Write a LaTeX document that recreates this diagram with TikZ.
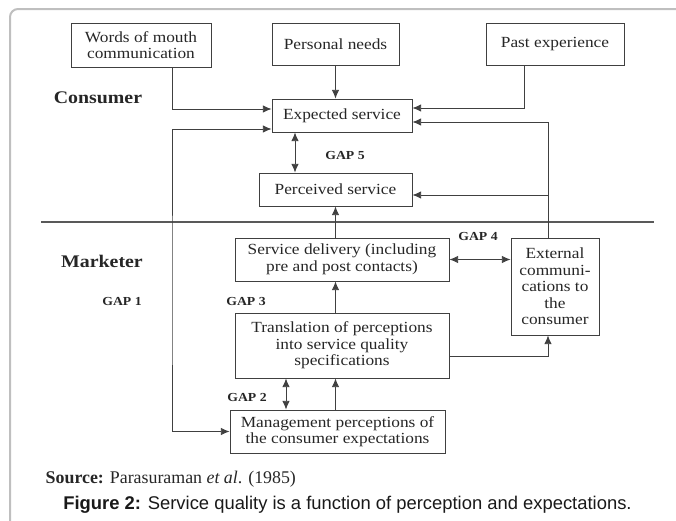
\documentclass[tikz,border=0pt]{standalone}
\usepackage{fontspec}
\setmainfont{Liberation Serif}
\newfontfamily\figfont[FakeStretch=1.12]{Liberation Serif}
\newfontfamily\capfont{Liberation Sans}
\usetikzlibrary{arrows.meta,calc}

\begin{document}
\begin{tikzpicture}[x=0.75pt,y=-0.75pt,
  box/.style={draw=black!75, line width=0.6pt, inner sep=0pt, align=center, text=black!85,
    font=\figfont\fontsize{11.6}{12.4}\selectfont},
  gap/.style={text=black!85, font=\figfont\bfseries\fontsize{9.2}{9.2}\selectfont},
  side/.style={text=black!85, font=\figfont\bfseries\fontsize{13.3}{13.3}\selectfont},
  link/.style={draw=black!75, line width=0.6pt, -{Latex[length=6.5pt,width=5.5pt]}},
  both/.style={link, {Latex[length=6.5pt,width=5.5pt]}-{Latex[length=6.5pt,width=5.5pt]}}]
  \useasboundingbox (0,0) rectangle (676,521);
  \draw[black!25, line width=1.5pt, rounded corners=6pt] (10,521) -- (10,9) -- (676,9);

  \node[box, minimum width=105pt, minimum height=33pt] (words) at (141,45) {Words of mouth\\communication};
  \node[box, minimum width=95.25pt, minimum height=31.5pt] (needs) at (335.5,44) {Personal needs};
  \node[box, minimum width=103.5pt, minimum height=31.5pt] (past) at (555,44) {Past experience};
  \node[box, minimum width=105pt, minimum height=24.75pt] (expected) at (342,115.5) {Expected service};
  \node[box, minimum width=114.75pt, minimum height=24.75pt] (perceived) at (335.5,189.5) {Perceived service};
  \node[box, minimum width=160.5pt, minimum height=32.25pt] (delivery) at (342,259.5) {Service delivery (including\\pre and post contacts)};
  \node[box, minimum width=66pt, minimum height=72.75pt] (external) at (555,286.5) {External\\communi-\\cations to\\the\\consumer};
  \node[box, minimum width=160.5pt, minimum height=48.75pt] (translation) at (342,345.5) {Translation of perceptions\\into service quality\\specifications};
  \node[box, minimum width=161.25pt, minimum height=32.25pt] (management) at (337.5,431.5) {Management perceptions of\\the consumer expectations};

  \node[side] (consumer) at (98,98) {Consumer};
  \node[side] (marketer) at (102,261) {Marketer};
  \node[gap] (gap1) at (122,301) {GAP 1};
  \node[gap] (gap2) at (247,397) {GAP 2};
  \node[gap] (gap3) at (246,301) {GAP 3};
  \node[gap] (gap4) at (478,236) {GAP 4};
  \node[gap] (gap5) at (345,155) {GAP 5};

  \draw[black!65, line width=1pt] (41,222) -- (654,222);

  \coordinate (leftx) at (172,300);
  \coordinate (extx) at ($(external.north)+(-7,0)$);
  \coordinate (gtwo) at (286,400);
  \coordinate (gfive) at (295,150);
  \coordinate (pin) at ($(perceived.east)+(0,5.5)$);

  \draw[link] ($(words.south)+(31,0)$) |- ($(expected.west)+(0,-6.5)$);
  \draw[link] (needs.south) -- (expected.north -| needs.south);
  \draw[link] ($(past.south)+(-31,0)$) |- ($(expected.east)+(0,-7.5)$);
  \draw[link] (extx) |- ($(expected.east)+(0,6.5)$);
  \draw[link] (pin -| extx) -- (pin);
  \draw[both] ($(expected.west)+(0,13.5)$) -| (leftx) |- (management.west);
  \draw[both] (expected.south -| gfive) -- (perceived.north -| gfive);
  \draw[link] (delivery.north -| perceived.south) -- (perceived.south);
  \draw[both] (delivery.east) -- (external.west |- delivery.east);
  \draw[link] (translation.north -| perceived.south) -- (delivery.south -| perceived.south);
  \draw[link] ($(translation.east)+(0,10.5)$) -| (extx |- external.south);
  \draw[link] (management.north -| perceived.south) -- (translation.south -| perceived.south);
  \draw[both] (management.north -| gtwo) -- (translation.south -| gtwo);

  \node[anchor=west, text=black!85, font=\fontsize{13.4}{13.4}\selectfont] (source) at (41,479) {\textbf{Source:} Parasuraman \textit{et al}. (1985)};
  \node[text=black!90, font=\capfont\fontsize{13.8}{13.8}\selectfont] (caption) at (347.5,505) {\textbf{Figure 2:} Service quality is a function of perception and expectations.};
\end{tikzpicture}
\end{document}
